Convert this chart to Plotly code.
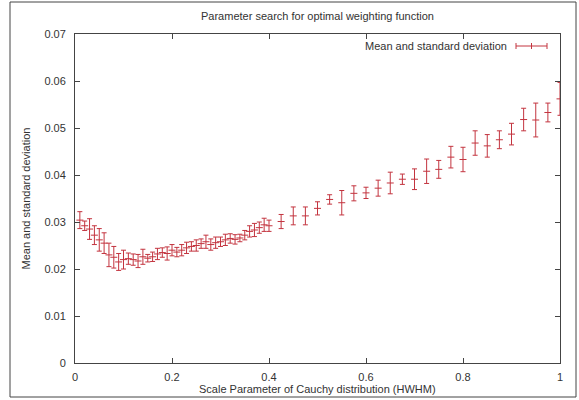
import plotly.graph_objects as go

# ---- data ----
x_vals = [0.01, 0.02, 0.03, 0.04, 0.05, 0.06, 0.07, 0.08, 0.09, 0.10,
          0.11, 0.12, 0.13, 0.14, 0.15, 0.16, 0.17, 0.18, 0.19, 0.20,
          0.21, 0.22, 0.23, 0.24, 0.25, 0.26, 0.27, 0.28, 0.29, 0.30,
          0.31, 0.32, 0.33, 0.34, 0.35, 0.36, 0.37, 0.38, 0.39, 0.40,
          0.425, 0.45, 0.475, 0.50, 0.525, 0.55, 0.575, 0.60, 0.625, 0.65,
          0.675, 0.70, 0.725, 0.75, 0.775, 0.80, 0.825, 0.85, 0.875, 0.90,
          0.925, 0.95, 0.975, 1.0]

mean_vals = [0.0304, 0.0292, 0.0285, 0.0272, 0.0262, 0.0255, 0.0230, 0.0225, 0.0215, 0.0220,
             0.0222, 0.0220, 0.0217, 0.0226, 0.0223, 0.0226, 0.0232, 0.0235, 0.0233, 0.0240,
             0.0236, 0.0240, 0.0245, 0.0248, 0.0250, 0.0254, 0.0258, 0.0252, 0.0256, 0.0258,
             0.0262, 0.0265, 0.0263, 0.0266, 0.0272, 0.0280, 0.0283, 0.0288, 0.0294, 0.0292,
             0.0301, 0.0313, 0.0313, 0.0329, 0.0348, 0.0341, 0.0361, 0.0362, 0.0372, 0.0383,
             0.0391, 0.0391, 0.0408, 0.0412, 0.0438, 0.0433, 0.0468, 0.0462, 0.0475, 0.0487,
             0.0518, 0.0517, 0.0533, 0.0562]

std_vals = [0.0018, 0.0010, 0.0022, 0.0020, 0.0024, 0.0022, 0.0025, 0.0023, 0.0018, 0.0020,
            0.0012, 0.0012, 0.0014, 0.0016, 0.0008, 0.0010, 0.0012, 0.0010, 0.0014, 0.0012,
            0.0010, 0.0012, 0.0012, 0.0010, 0.0012, 0.0010, 0.0014, 0.0012, 0.0012, 0.0010,
            0.0012, 0.0010, 0.0010, 0.0008, 0.0010, 0.0012, 0.0014, 0.0012, 0.0014, 0.0012,
            0.0015, 0.0019, 0.0019, 0.0014, 0.0010, 0.0026, 0.0016, 0.0012, 0.0017, 0.0023,
            0.0011, 0.0022, 0.0026, 0.0019, 0.0023, 0.0026, 0.0026, 0.0024, 0.0019, 0.0023,
            0.0024, 0.0036, 0.0020, 0.0035]

x_ticks = [0, 0.2, 0.4, 0.6, 0.8, 1]
x_ticklabels = ["0", "0.2", "0.4", "0.6", "0.8", "1"]
y_ticks = [0, 0.01, 0.02, 0.03, 0.04, 0.05, 0.06, 0.07]
y_ticklabels = ["0", "0.01", "0.02", "0.03", "0.04", "0.05", "0.06", "0.07"]

title_text = "Parameter search for optimal weighting function"
x_title = "Scale Parameter of Cauchy distribution (HWHM)"
y_title = "Mean and standard deviation"
legend_text = "Mean and standard deviation"

RED = "#c3343f"
AXIS = "#444444"
TXT = "#333333"
FONT = "Liberation Sans, Arial, sans-serif"

fig = go.Figure()
fig.add_trace(go.Scatter(
    x=x_vals, y=mean_vals, mode="markers",
    marker=dict(symbol="line-ew", size=5, line=dict(color=RED, width=1), color=RED),
    error_y=dict(type="data", array=std_vals, visible=True, color=RED,
                 thickness=1, width=2.5),
    showlegend=False, hoverinfo="x+y",
))

L, R, T, B = 75, 19, 34, 37
W, H = 579, 400
pw, ph = W - L - R, H - T - B

def px_to_paper_x(px):
    return (px - L) / pw

def py_to_paper_y(py):
    return (H - B - py) / ph

shapes = []
# outer frame
shapes.append(dict(type="rect", xref="paper", yref="paper",
                   x0=px_to_paper_x(10), x1=px_to_paper_x(576),
                   y0=py_to_paper_y(397), y1=py_to_paper_y(2),
                   line=dict(color=AXIS, width=1), layer="below"))
# legend sample (horizontal error bar glyph)
ly = py_to_paper_y(46)
lx0, lx1, lxc = px_to_paper_x(516), px_to_paper_x(547), px_to_paper_x(531.5)
dy = 3 / ph
shapes.append(dict(type="line", xref="paper", yref="paper", x0=lx0, x1=lx1, y0=ly, y1=ly,
                   line=dict(color=RED, width=1)))
for xx in (lx0, lx1, lxc):
    shapes.append(dict(type="line", xref="paper", yref="paper", x0=xx, x1=xx,
                       y0=ly - dy, y1=ly + dy, line=dict(color=RED, width=1)))

annotations = [
    dict(text=title_text, xref="paper", yref="paper", x=0.5, y=py_to_paper_y(16),
         showarrow=False, font=dict(family=FONT, size=11, color=TXT),
         xanchor="center", yanchor="middle"),
    dict(text=x_title, xref="paper", yref="paper", x=0.5, y=py_to_paper_y(389),
         showarrow=False, font=dict(family=FONT, size=11, color=TXT),
         xanchor="center", yanchor="middle"),
    dict(text=y_title, xref="paper", yref="paper", x=px_to_paper_x(25), y=0.5,
         showarrow=False, textangle=-90, font=dict(family=FONT, size=11, color=TXT),
         xanchor="center", yanchor="middle"),
    dict(text=legend_text, xref="paper", yref="paper", x=px_to_paper_x(509), y=ly,
         showarrow=False, font=dict(family=FONT, size=11, color=TXT),
         xanchor="right", yanchor="middle"),
]

fig.update_layout(
    width=W, height=H,
    margin=dict(l=L, r=R, t=T, b=B, pad=0),
    paper_bgcolor="white", plot_bgcolor="white",
    shapes=shapes, annotations=annotations,
    showlegend=False,
    font=dict(family=FONT, size=11, color=TXT),
)
fig.update_xaxes(range=[0, 1], tickvals=x_ticks, ticktext=x_ticklabels,
                 ticks="inside", ticklen=5, tickcolor=AXIS, tickwidth=1,
                 showline=True, linecolor=AXIS, linewidth=1, mirror="ticks",
                 showgrid=False, zeroline=False, ticklabelstandoff=4,
                 tickfont=dict(family=FONT, size=11, color=TXT))
fig.update_yaxes(range=[0, 0.07], tickvals=y_ticks, ticktext=y_ticklabels,
                 ticks="inside", ticklen=5, tickcolor=AXIS, tickwidth=1,
                 showline=True, linecolor=AXIS, linewidth=1, mirror="ticks",
                 showgrid=False, zeroline=False, ticklabelstandoff=6,
                 tickfont=dict(family=FONT, size=11, color=TXT))

fig.write_html("out.html")
